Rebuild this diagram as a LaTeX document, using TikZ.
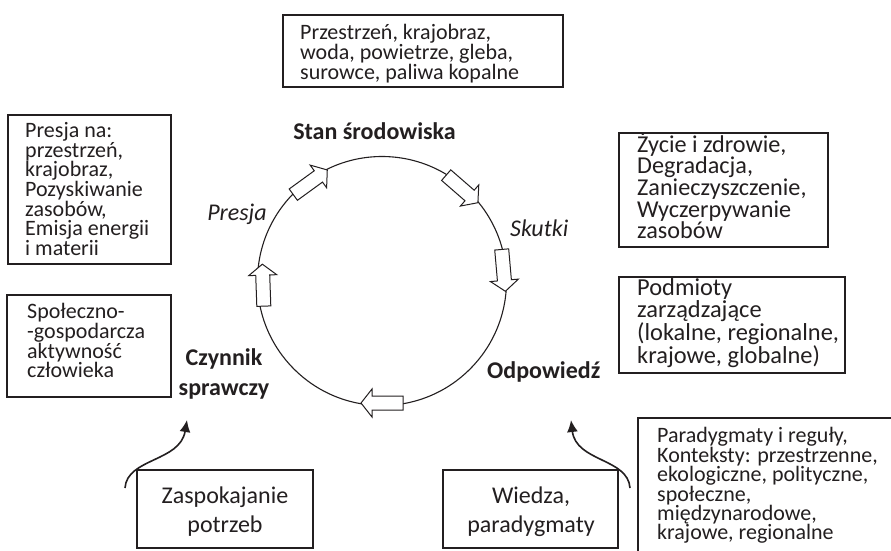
\documentclass[tikz,border=0pt]{standalone}
\usepackage{fontspec}
\setmainfont{Carlito}
\usetikzlibrary{calc,arrows.meta}
\definecolor{ink}{RGB}{35,31,32}
\tikzset{
  frame/.style={draw=ink, line width=1.1pt, inner sep=0pt, outer sep=0pt, anchor=north west},
  boxtext/.style={text=ink, inner sep=0pt, anchor=north west, align=left, font=\fontsize{22}{18.6}\selectfont},
  bigtext/.style={text=ink, inner sep=0pt, anchor=north, align=center, font=\fontsize{24}{29.5}\selectfont},
  lblbold/.style={text=ink, inner sep=0pt, font=\fontsize{24}{30}\selectfont\bfseries},
  lblit/.style={text=ink, inner sep=0pt, font=\fontsize{24}{30}\selectfont\itshape},
  cyclearrow/.style={draw=ink, fill=white, line width=1pt, line join=miter},
  curvearrow/.style={draw=ink, line width=1.6pt, -{Latex[length=12pt,width=11pt]}},
}
\newcommand\cycarrow[2]{%
  \begin{scope}[shift={($(cyc.center)+(#1:#2)$)}, rotate=#1-90]
    \draw[cyclearrow] (-21,-7) -- (10,-7) -- (10,-14) -- (21,0) -- (10,14) -- (10,7) -- (-21,7) -- cycle;
  \end{scope}}
\begin{document}
\begin{tikzpicture}[x=1pt,y=-1pt]
\fill[white] (0,0) rectangle (891,550);
\path[use as bounding box] (0,0) rectangle (891,550);
\clip (0,0) rectangle (891,550);

% central cycle
\node[circle, draw=ink, line width=1.1pt, minimum size=249pt, inner sep=0pt] (cyc) at (382,281) {};
\cycarrow{126}{122pt}
\cycarrow{49}{122pt}
\cycarrow{5}{122pt}
\cycarrow{-90}{122pt}
\cycarrow{182}{119pt}

% frames
\node[frame, minimum width=280pt, minimum height=72pt] (topbox) at (283,15) {};
\node[frame, minimum width=163pt, minimum height=149pt] (presbox) at (8,115) {};
\node[frame, minimum width=164pt, minimum height=102pt] (actbox) at (7,295) {};
\node[frame, minimum width=176pt, minimum height=78pt] (needbox) at (137,470) {};
\node[frame, minimum width=175pt, minimum height=78pt] (knowbox) at (443,470) {};
\node[frame, minimum width=300pt, minimum height=160pt] (parbox) at (638,418) {};
\node[frame, minimum width=209pt, minimum height=114pt] (lifebox) at (619,133) {};
\node[frame, minimum width=226pt, minimum height=96pt] (mgmtbox) at (619,277) {};

% frame texts
\node[boxtext] (toptext) at (300,19) {\rule{0pt}{20pt}Przestrzeń, krajobraz,\\woda, powietrze, gleba,\\surowce, paliwa kopalne};
\node[boxtext] (prestext) at (25,117) {\rule{0pt}{20pt}Presja na:\\przestrzeń,\\krajobraz,\\Pozyskiwanie\\zasobów,\\Emisja energii\\i materii};
\node[boxtext] (acttext) at (27,298) {\rule{0pt}{20pt}Społeczno-\\-gospodarcza\\aktywność\\człowieka};
\node[boxtext, font=\fontsize{22}{19}\selectfont] (partext) at (657,422) {\rule{0pt}{20pt}Paradygmaty i reguły,\\Konteksty: przestrzenne,\\ekologiczne, polityczne,\\społeczne,\\międzynarodowe,\\krajowe, regionalne};
\node[boxtext, font=\fontsize{24.2}{18.5}\selectfont] (lifetext) at (637,132) {\rule{0pt}{20pt}Życie i zdrowie,\\Degradacja,\\Zanieczyszczenie,\\Wyczerpywanie\\zasobów};
\node[boxtext, font=\fontsize{24.4}{18.4}\selectfont] (mgmttext) at (637,275) {\rule{0pt}{20pt}Podmioty\\zarządzające\\(lokalne, regionalne,\\krajowe, globalne)};
\node[bigtext] (needtext) at (225,483) {\rule{0pt}{20pt}Zaspokajanie\\potrzeb};
\node[bigtext] (knowtext) at (531,483) {\rule{0pt}{20pt}Wiedza,\\paradygmaty};

% labels around the cycle
\node[lblbold, anchor=base] (stan) at (374.5,139) {Stan środowiska};
\node[lblit, anchor=base east] (presja) at (267,220) {Presja};
\node[lblit, anchor=base west] (skutki) at (510,236) {Skutki};
\node[lblbold, anchor=north, align=center] (czynnik) at (224,345) {\rule{0pt}{20pt}Czynnik\\sprawczy};
\node[lblbold, anchor=base west] (odp) at (487,378) {Odpowiedź};

% curved arrows
\coordinate (needstart) at (125,488);
\coordinate (needtip) at (187,420);
\coordinate (knowstart) at (630,488);
\coordinate (knowtip) at (571,420);
\draw[curvearrow] (needstart) .. controls (127,458) and (180,462) .. (needtip);
\draw[curvearrow] (knowstart) .. controls (628,458) and (576,462) .. (knowtip);
\end{tikzpicture}
\end{document}
